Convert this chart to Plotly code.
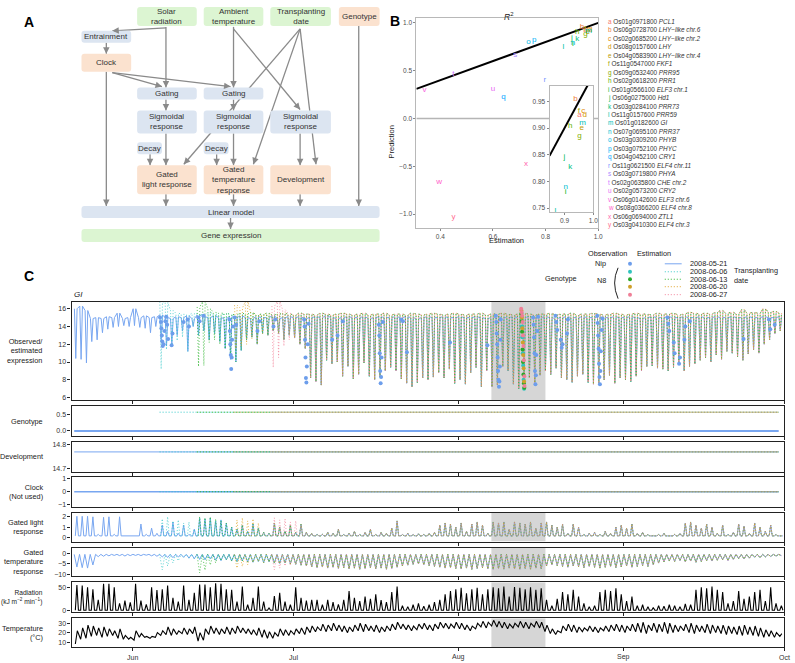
import math
import pandas as pd
import plotly.graph_objects as go

W, H = 795, 663
FONT = "Liberation Sans, Arial, sans-serif"


def fx(px):
    return px / W


def fy(py):
    return 1 - py / H


# ======================= DATA =======================
# ---- Panel A (diagram labels) ----
diagram_labels = ["Solar<br>radiation", "Ambient<br>temperature", "Transplanting<br>date", "Genotype",
                  "Entrainment", "Clock", "Gating", "Gating",
                  "Sigmoidal<br>response", "Sigmoidal<br>response", "Sigmoidal<br>response",
                  "Decay", "Decay", "Gated<br>light response", "Gated<br>temperature<br>response",
                  "Development", "Linear model", "Gene expression"]
diagram_kind = ["input", "input", "input", "state", "proc", "state", "proc", "proc",
                "proc", "proc", "proc", "proc", "proc", "state", "state", "state", "proc", "input"]

# ---- Panel B ----
gene_letters = list("abcdefghijklmnopqrstuvwxy")
gene_ids = ["Os01g0971800", "Os06g0728700", "Os02g0685200", "Os08g0157600", "Os04g0583900",
            "Os11g0547000", "Os09g0532400", "Os02g0618200", "Os01g0566100", "Os06g0275000",
            "Os03g0284100", "Os11g0157600", "Os01g0182600", "Os07g0695100", "Os03g0309200",
            "Os03g0752100", "Os04g0452100", "Os11g0621500", "Os03g0719800", "Os02g0635800",
            "Os02g0573200", "Os06g0142600", "Os08g0366200", "Os06g0694000", "Os03g0410300"]
gene_names = ["PCL1", "LHY\u2212like chr.6", "LHY\u2212like chr.2", "LHY", "LHY\u2212like chr.4",
              "FKF1", "PRR95", "PRR1", "ELF3 chr.1", "Hd1", "PRR73", "PRR59", "GI", "PRR37",
              "PHYB", "PHYC", "CRY1", "ELF4 chr.11", "PHYA", "CHE chr.2", "CRY2", "ELF3 chr.6",
              "ELF4 chr.8", "ZTL1", "ELF4 chr.3"]
r2_estimation = [0.952, 0.938, 0.965, 0.970, 0.960, 0.950, 0.952, 0.920, 0.904, 0.900,
                 0.920, 0.868, 0.963, 0.904, 0.735, 0.757, 0.640, 0.797, 0.685, 0.450,
                 0.600, 0.340, 0.396, 0.726, 0.450]
r2_prediction = [0.924, 0.954, 0.933, 0.925, 0.900, 0.933, 0.886, 0.905, 0.780, 0.846,
                 0.828, 0.745, 0.910, 0.790, 0.795, 0.820, 0.220, 0.400, 0.665, 0.460,
                 0.310, 0.295, -0.670, -0.475, -1.035]

# ---- Panel C ----
first_day = "2008-05-21"
last_day = "2008-09-30"
transplant_dates = ["2008-05-21", "2008-06-06", "2008-06-13", "2008-06-20", "2008-06-27"]
shade_start, shade_end = "2008-08-07 04:00", "2008-08-17 07:00"
month_ticks = ["2008-06-01", "2008-07-01", "2008-08-01", "2008-09-01", "2008-10-01"]
month_labels = ["Jun", "Jul", "Aug", "Sep", "Oct"]

# GI estimated expression (Nip): daily trough and plateau
gi_trough = [10.4, 10.3, 9.9, 12.3, 12.5, 13.3, 13.7, 13.9, 14.0, 14.1, 14.0,
             14.1, 13.9, 13.8, 13.3, 14.0, 12.3, 11.8, 12.0, 13.0, 13.5,
             11.2, 14.0, 13.0, 13.5, 12.5, 13.2, 12.3, 11.5, 10.3, 10.0,
             11.3, 12.5, 12.8, 12.0, 13.2, 13.0, 13.5, 13.2, 12.5, 13.0,
             12.7, 12.0, 11.5, 8.2, 7.8, 7.4, 10.2, 9.8, 10.0, 8.4,
             9.5, 8.1, 8.6, 9.9, 8.4, 8.0, 8.3, 9.0, 9.4, 9.0,
             8.1, 7.6, 7.2, 7.7, 8.2, 8.0, 8.3, 8.8, 8.2, 9.2,
             7.6, 8.0, 7.5, 8.8, 9.4, 7.2, 9.0, 7.2, 7.4, 9.5,
             9.0, 7.5, 7.0, 8.0, 8.2, 7.5, 8.5, 9.0, 8.6, 9.3,
             8.2, 8.0, 7.7, 8.4, 8.6, 7.7, 7.5, 7.6, 8.0, 8.5,
             7.6, 8.2, 8.0, 7.8, 8.4, 9.0, 9.5, 9.6, 9.3, 9.2,
             9.0, 9.4, 9.8, 9.0, 9.5, 9.8, 10.2, 10.5, 10.0, 10.8,
             10.3, 11.2, 11.0, 10.6, 10.2, 10.9, 11.4, 11.0, 12.0, 12.5, 13.2, 13.5]
gi_peak = [16.0, 16.3, 15.8, 14.9, 15.0, 14.9, 15.1, 15.0, 15.5, 14.9, 15.0,
           16.0, 15.0, 15.2, 15.0, 15.1, 15.3, 15.0, 14.9, 15.1, 15.0,
           15.2, 14.9, 15.3, 15.1, 15.0, 15.2, 15.0, 14.9, 15.1, 15.0,
           15.2, 15.0, 14.9, 15.1, 15.0, 15.0, 15.2, 14.9, 15.0, 15.1,
           15.0, 15.1, 14.9, 15.0, 15.1, 15.0, 15.2, 15.0, 14.9, 15.0,
           15.1, 15.0, 15.0, 15.1, 14.9, 15.0, 15.1, 15.0, 15.0, 15.1,
           15.0, 15.1, 15.0, 14.9, 15.0, 15.1, 15.0, 15.0, 15.1, 15.0,
           15.0, 15.1, 15.0, 15.0, 15.1, 15.0, 14.9, 15.0, 15.1, 15.0,
           15.0, 15.1, 15.0, 15.0, 15.1, 15.0, 15.0, 15.1, 15.0, 14.9,
           15.0, 15.1, 15.0, 15.0, 15.1, 15.0, 15.0, 15.1, 15.0, 15.0,
           15.1, 15.0, 15.0, 15.1, 15.0, 14.9, 15.0, 15.1, 15.0, 15.0,
           15.1, 15.0, 15.0, 15.1, 15.0, 15.0, 15.1, 15.0, 15.0, 15.1,
           15.0, 15.0, 15.1, 15.0, 15.0, 15.1, 15.0, 15.0, 15.1, 15.0, 15.0, 15.1]
# N8 plateau from 2008-06-06 on (index 16..132)
gi_peak_n8 = [15.4, 15.3, 15.5, 15.3, 15.4,
              15.3, 15.5, 15.4, 15.3, 15.6, 15.4, 15.3, 15.5, 15.4, 15.3,
              15.5, 15.4, 15.6, 15.3, 15.4, 15.5, 15.3, 15.4, 15.5, 15.4,
              15.3, 15.5, 15.4, 15.4, 15.3, 15.5, 15.4, 15.3, 15.4, 15.5,
              15.4, 15.3, 15.4, 15.5, 15.3, 15.4, 15.4, 15.5, 15.3, 15.4,
              15.4, 15.3, 15.5, 15.4, 15.3, 15.4, 15.5, 15.4, 15.3, 15.4,
              15.5, 15.4, 15.3, 15.4, 15.4, 15.5, 15.3, 15.4, 15.4, 15.5,
              15.4, 15.3, 15.4, 15.5, 15.4, 15.3, 15.4, 15.4, 15.5, 15.3,
              15.4, 15.4, 15.5, 15.3, 15.4, 15.4, 15.5, 15.4, 15.3, 15.4,
              15.5, 15.4, 15.3, 15.4, 15.5, 15.4, 15.4, 15.3, 15.5, 15.4,
              15.4, 15.5, 15.3, 15.4, 15.6, 15.5, 15.4, 15.5, 15.4, 15.6,
              15.8, 15.5, 15.6, 15.4, 15.9, 15.5, 15.6, 15.5, 16.0, 15.6, 15.7, 15.5]
# transients of N8 estimates just after each transplanting date
n8_gi_trough_start = [[9.2, 11.4, 11.9, 12.4, 12.8], [9.5, 9.6, 12.2, 12.5, 12.0],
                      [11.5, 11.8, 12.0, 12.6], [9.4, 10.5, 11.8, 12.5]]
n8_gi_peak_start = [[16.8, 16.7, 15.8, 15.5, 15.4], [16.2, 16.8, 16.0, 15.6, 15.5],
                    [16.4, 16.1, 16.8, 15.6], [16.3, 16.8, 15.9, 15.5]]

# Observations of GI (Nip)
obs_nip_time = [
    "2008-06-06 02:00", "2008-06-06 06:00", "2008-06-06 08:00", "2008-06-06 10:00", "2008-06-06 12:00",
    "2008-06-06 14:00", "2008-06-06 18:00", "2008-06-06 22:00", "2008-06-07 02:00", "2008-06-07 06:00",
    "2008-06-07 10:00", "2008-06-07 14:00", "2008-06-08 06:00", "2008-06-08 10:00",
    "2008-06-10 12:00", "2008-06-11 06:00", "2008-06-11 12:00",
    "2008-06-13 06:00", "2008-06-13 12:00", "2008-06-14 06:00",
    "2008-06-19 02:00", "2008-06-19 04:00", "2008-06-19 06:00", "2008-06-19 08:00", "2008-06-19 10:00",
    "2008-06-19 12:00", "2008-06-19 14:00", "2008-06-19 18:00", "2008-06-20 02:00", "2008-06-20 08:00",
    "2008-06-24 08:00", "2008-06-24 16:00", "2008-06-27 08:00", "2008-06-27 16:00",
    "2008-07-03 02:00", "2008-07-03 04:00", "2008-07-03 06:00", "2008-07-03 08:00", "2008-07-03 10:00",
    "2008-07-03 12:00", "2008-07-03 14:00", "2008-07-03 18:00", "2008-07-03 22:00",
    "2008-07-08 08:00", "2008-07-09 08:00", "2008-07-10 08:00",
    "2008-07-17 02:00", "2008-07-17 04:00", "2008-07-17 06:00", "2008-07-17 08:00", "2008-07-17 10:00",
    "2008-07-17 12:00", "2008-07-17 14:00", "2008-07-17 20:00",
    "2008-07-21 06:00", "2008-07-21 14:00", "2008-07-22 08:00", "2008-07-30 10:00", "2008-08-06 10:00",
    "2008-08-08 00:00", "2008-08-08 02:00", "2008-08-08 04:00", "2008-08-08 06:00", "2008-08-08 08:00",
    "2008-08-08 10:00", "2008-08-08 12:00", "2008-08-08 14:00", "2008-08-08 16:00", "2008-08-08 18:00",
    "2008-08-08 20:00", "2008-08-08 22:00",
    "2008-08-15 00:00", "2008-08-15 02:00", "2008-08-15 04:00", "2008-08-15 06:00", "2008-08-15 08:00",
    "2008-08-15 10:00", "2008-08-15 12:00", "2008-08-15 14:00", "2008-08-15 18:00", "2008-08-15 22:00",
    "2008-08-19 04:00", "2008-08-19 08:00", "2008-08-19 12:00", "2008-08-20 04:00", "2008-08-20 08:00",
    "2008-08-20 12:00", "2008-08-21 08:00", "2008-08-21 12:00",
    "2008-08-27 00:00", "2008-08-27 02:00", "2008-08-27 04:00", "2008-08-27 06:00", "2008-08-27 08:00",
    "2008-08-27 10:00", "2008-08-27 12:00", "2008-08-27 14:00", "2008-08-27 16:00", "2008-08-27 20:00",
    "2008-08-28 00:00",
    "2008-09-09 04:00", "2008-09-09 08:00", "2008-09-09 12:00", "2008-09-10 08:00", "2008-09-10 12:00",
    "2008-09-11 08:00", "2008-09-11 12:00", "2008-09-12 08:00", "2008-09-12 12:00", "2008-09-13 08:00",
    "2008-09-23 10:00", "2008-09-28 04:00", "2008-09-28 10:00", "2008-09-29 06:00"]
obs_nip_value = [
    15.0, 14.5, 13.8, 13.0, 12.3, 11.8, 12.0, 13.5, 14.6, 15.1, 14.2, 12.6, 11.9, 13.2,
    14.5, 14.8, 14.0,
    15.0, 14.6, 15.2,
    14.8, 13.5, 12.0, 10.8, 9.2, 10.5, 12.5, 14.0, 15.0, 14.2,
    13.5, 14.6, 14.0, 14.8,
    14.8, 14.0, 12.5, 10.5, 8.2, 7.7, 9.5, 12.0, 14.3,
    12.5, 13.0, 14.6,
    14.2, 13.0, 11.0, 9.0, 7.6, 8.3, 10.5, 14.5,
    14.8, 14.6, 11.1, 12.2, 11.9,
    15.2, 14.5, 13.2, 12.0, 10.5, 9.0, 8.0, 7.2, 7.8, 9.5, 12.5, 14.8,
    15.0, 14.2, 12.8, 11.0, 9.0, 7.5, 8.5, 10.8, 13.5, 15.1,
    15.2, 14.5, 13.6, 12.5, 11.6, 12.0, 13.2, 14.8,
    15.2, 14.4, 13.0, 11.5, 9.8, 8.3, 7.5, 9.0, 11.2, 13.6, 14.9,
    15.0, 14.3, 13.5, 12.2, 11.0, 9.8, 10.5, 12.5, 14.0, 14.6,
    12.6, 14.8, 13.7, 14.2]
# Observations of GI (N8, one sampling day, per transplanting date)
obs_n8_time = [["2008-08-12 19:00", "2008-08-12 21:00", "2008-08-12 23:00", "2008-08-13 01:00",
                "2008-08-13 03:00", "2008-08-13 05:00", "2008-08-13 07:00"],
               ["2008-08-12 18:00", "2008-08-12 20:00", "2008-08-12 22:00", "2008-08-13 00:00",
                "2008-08-13 02:00", "2008-08-13 04:00", "2008-08-13 06:00", "2008-08-13 08:00"],
               ["2008-08-12 19:00", "2008-08-12 21:00", "2008-08-12 23:00", "2008-08-13 01:00",
                "2008-08-13 03:00", "2008-08-13 05:00", "2008-08-13 07:00"],
               ["2008-08-12 18:00", "2008-08-12 20:00", "2008-08-12 22:00", "2008-08-13 00:00",
                "2008-08-13 02:00", "2008-08-13 04:00", "2008-08-13 06:00", "2008-08-13 08:00",
                "2008-08-13 09:00"]]
obs_n8_value = [[15.1, 14.0, 12.8, 11.0, 9.6, 8.0, 7.0],
                [15.4, 14.6, 13.4, 11.4, 10.0, 8.6, 7.6, 7.1],
                [15.8, 15.0, 13.8, 12.2, 10.8, 9.3, 7.8],
                [16.0, 15.6, 15.2, 14.5, 13.0, 11.8, 10.2, 8.4, 7.3]]

# Genotype / Development / Clock terms
genotype_effect = [0.0, 0.56, 0.56, 0.56, 0.56]
development_effect = [14.771, 14.771, 14.771, 14.771, 14.771]
clock_effect = [0.0, 0.0, 0.0, 0.0, 0.0]

# Gated light response (Nip): daily peak, night level
light_peak = [2.05, 2.05, 2.05, 2.0, 0.3, 1.95, 2.0, 0.3, 2.0, 0.2, 0.2,
              0.15, 1.3, 0.3, 0.9, 0.4, 1.2, 0.6, 1.5, 0.4, 1.2,
              0.3, 0.8, 1.9, 1.8, 1.9, 1.6, 1.7, 1.4, 1.0, 0.8,
              1.2, 0.6, 1.3, 0.9, 0.5, 0.4, 1.4, 1.0, 0.6, 1.2,
              0.5, 1.3, 0.5, 0.4, 0.3, 0.3, 0.5, 0.4, 0.8, 0.3,
              0.4, 0.6, 0.3, 0.5, 0.8, 0.3, 0.5, 0.4, 0.9, 1.6,
              0.3, 0.4, 0.3, 0.35, 0.3, 0.4, 0.5, 1.2, 1.4, 1.3,
              1.0, 1.4, 0.6, 1.3, 1.5, 1.2, 0.4, 1.5, 1.4, 1.5,
              0.8, 1.5, 1.4, 1.3, 1.5, 0.9, 1.4, 1.5, 1.2, 1.0,
              1.3, 0.4, 1.3, 1.0, 0.3, 0.4, 0.5, 0.3, 0.6, 0.4,
              1.0, 1.2, 0.9, 1.3, 0.4, 0.5, 0.3, 0.2, 0.3, 0.4,
              0.2, 0.3, 0.4, 1.4, 1.5, 1.2, 0.9, 1.3, 1.0, 0.4,
              1.2, 0.3, 0.5, 1.3, 1.1, 0.4, 1.4, 1.0, 0.6, 1.2, 0.3, 0.2]
light_night = 0.15
n8_light_start = [[1.8, 2.0, 1.6, 1.7, 1.4, 1.5], [2.0, 1.9, 2.0, 1.8, 1.6],
                  [1.7, 1.9, 1.6, 1.8, 1.4], [1.9, 1.7, 1.8, 1.5, 1.6, 1.2]]

# Gated temperature response (Nip): daily minimum, daily top level
gtemp_min = [-6.5, -6.8, -7.0, -5.5, -1.5, -1.3, -1.1, -0.9, -1.0, -1.2, -1.0,
             -0.9, -1.0, -0.8, -1.1, -1.3, -1.6, -1.9, -2.0, -1.6, -1.8,
             -2.2, -2.5, -2.8, -3.0, -2.6, -3.2, -3.4, -3.0, -3.6, -3.8,
             -3.5, -4.0, -4.2, -3.8, -4.4, -4.0, -4.6, -4.8, -4.5, -5.0,
             -5.2, -5.6, -6.0, -6.4, -6.8, -6.5, -7.0, -6.6, -7.2, -6.8,
             -7.4, -7.0, -7.6, -7.2, -6.8, -7.4, -7.0, -7.6, -7.2, -6.6,
             -6.0, -5.6, -5.2, -5.0, -5.4, -5.8, -6.2, -6.6, -7.0, -6.8,
             -7.2, -7.4, -7.0, -7.6, -7.2, -6.8, -7.4, -7.6, -7.2, -7.5,
             -7.0, -7.4, -7.6, -7.2, -7.5, -7.0, -7.3, -6.0, -5.4, -5.8,
             -6.2, -6.6, -6.0, -6.4, -6.8, -6.2, -6.6, -7.0, -6.6, -6.2,
             -6.8, -6.4, -6.0, -6.6, -6.2, -5.8, -6.2, -5.4, -4.6, -4.0,
             -3.6, -3.8, -3.4, -4.0, -3.6, -4.2, -3.8, -3.4, -3.6, -3.2,
             -3.0, -3.4, -2.8, -2.4, -2.6, -2.2, -1.8, -2.0, -1.6, -1.4, -1.2, -1.0]
gtemp_top = -0.4
n8_gtemp_start = [[-7.8, -6.0, -4.5, -3.5], [-9.3, -8.0, -5.5, -4.5],
                  [-7.0, -6.2, -5.5], [-7.8, -7.0, -6.0, -5.5]]

# Solar radiation (kJ m-2 min-1): daily maximum, night level
radiation_peak = [55, 54, 50, 46, 23, 58, 58, 50, 15, 21, 17,
                  58, 21, 13, 50, 44, 46, 54, 27, 19, 54,
                  23, 38, 56, 56, 50, 59, 58, 46, 45, 19,
                  52, 12, 27, 52, 19, 5, 31, 38, 19, 12,
                  50, 27, 21, 23, 23, 12, 23, 18, 13, 23, 42, 27,
                  20, 30, 25, 35, 22, 18, 40, 52,
                  10, 8, 12, 15, 9, 12, 18,
                  23, 35, 42, 46, 49, 37, 46, 49, 35, 46,
                  50, 48, 52, 30, 51, 49, 46, 50, 45, 48,
                  23, 10, 25, 40, 35, 45, 30, 15, 8, 10,
                  40, 45, 42, 48, 35, 20,
                  30, 10, 12, 8, 6, 10, 9, 12, 10, 8,
                  14, 12, 45, 50, 48, 52, 45, 40, 15,
                  20, 42, 25, 30, 40, 45, 20, 50, 15, 10]
radiation_night = 0.0

# Air temperature (deg C): daily maximum and minimum
temp_max = [22, 25, 28, 27, 25, 26, 24, 22, 24, 17, 15,
            22, 19, 16, 16, 20, 22, 26, 24, 22, 25,
            24, 26, 20, 24, 27, 25, 24, 26, 25, 27,
            25, 24, 23, 25, 23, 21, 20, 24, 23, 22,
            24, 25, 26, 27, 26, 29, 28, 30, 28, 27,
            26, 28, 30, 29, 27, 28, 26, 27, 29, 31,
            29, 28, 27, 29, 30, 28, 29, 31, 30, 29,
            31, 30, 28, 27, 30, 32, 31, 33, 32, 31,
            29, 30, 32, 31, 30, 32, 31, 28, 24, 22,
            27, 29, 28, 26, 25, 27, 26, 25, 27, 28,
            29, 28, 27, 29, 30, 31, 28, 30, 29, 31,
            30, 28, 27, 29, 30, 28, 27, 29, 28, 27,
            28, 27, 26, 27, 28, 26, 27, 25, 23, 22, 20, 19]
temp_min = [8, 13, 14, 16, 17, 15, 16, 17, 14, 13, 13,
            12, 15, 15, 14, 15, 17, 18, 17, 18, 19,
            18, 19, 11, 12, 18, 19, 18, 19, 18, 19,
            20, 19, 18, 17, 15, 14, 14, 16, 17, 17,
            18, 19, 18, 20, 21, 22, 21, 22, 22, 21,
            20, 21, 22, 21, 22, 21, 20, 21, 22, 23,
            24, 23, 22, 23, 24, 23, 22, 24, 25, 24,
            25, 24, 23, 22, 24, 26, 25, 27, 26, 25,
            24, 25, 26, 25, 24, 26, 25, 21, 19, 18,
            20, 22, 21, 20, 21, 22, 21, 20, 22, 21,
            22, 21, 20, 22, 21, 20, 19, 22, 20, 21,
            19, 20, 21, 22, 20, 19, 21, 20, 19, 20,
            19, 18, 19, 18, 17, 18, 17, 16, 15, 16, 15, 16]

# ======================= STYLE =======================
series_colors = ["#78a6f0", "#35c8c8", "#2fb52f", "#e0a42a", "#f3849b"]
dot_colors = ["#6d9eeb", "#30c3bd", "#2aa82a", "#cfa02a", "#ef7f97"]
DOT = "1px,2px"

days = pd.date_range(first_day, last_day, freq="D")
N = len(days)
for arr in (gi_trough, gi_peak, light_peak, gtemp_min, radiation_peak, temp_max, temp_min):
    assert len(arr) == N, len(arr)
assert len(gi_peak_n8) == N - 16

fig = go.Figure()
shapes = []
annotations = []


def hcl_hex(h, c=100.0, l=65.0):
    hr = math.radians(h)
    u, v = c * math.cos(hr), c * math.sin(hr)
    Xn, Yn, Zn = 95.047, 100.0, 108.883
    un = 4 * Xn / (Xn + 15 * Yn + 3 * Zn)
    vn = 9 * Yn / (Xn + 15 * Yn + 3 * Zn)
    Y = Yn * ((l + 16) / 116) ** 3
    up = u / (13 * l) + un
    vp = v / (13 * l) + vn
    X = 9 * Y * up / (4 * vp)
    Z = (12 - 3 * up - 20 * vp) * Y / (4 * vp)
    X, Y, Z = X / 100, Y / 100, Z / 100
    r = 3.2404542 * X - 1.5371385 * Y - 0.4985314 * Z
    g = -0.9692660 * X + 1.8760108 * Y + 0.0415560 * Z
    b = 0.0556434 * X - 0.2040259 * Y + 1.0572252 * Z

    def gam(x):
        x = max(0.0, min(1.0, x))
        return 12.92 * x if x <= 0.0031308 else 1.055 * x ** (1 / 2.4) - 0.055

    return "#%02x%02x%02x" % tuple(int(round(gam(x) * 255)) for x in (r, g, b))


gene_colors = [hcl_hex(15 + 360 * i / 25) for i in range(25)]

# ======================= PANEL A =======================
box_geom = [(138, 5, 198, 24), (205, 5, 265, 24), (272, 5, 333, 24), (341, 5, 382, 24),
            (82, 29, 132, 41), (82, 52, 132, 70), (138, 86, 198, 98), (205, 86, 265, 98),
            (138, 109, 198, 132), (205, 109, 265, 132), (272, 109, 333, 132),
            (138, 141, 163, 153), (205, 141, 230, 153), (138, 164, 198, 193),
            (205, 164, 265, 193), (272, 164, 333, 193), (82, 205, 382, 217), (82, 228, 382, 241)]
kind_fill = {"input": "#dcf5d2", "state": "#fbe2cf", "proc": "#dce5f1"}
edges = [((167, 26), (113, 29)), ((167, 25), (167, 86)), ((107, 41), (107, 52)),
         ((107, 70), (107, 205)), ((113, 71), (163, 85)), ((113, 71), (232, 85)),
         ((235, 25), (235, 86)), ((235, 27), (302, 108)), ((302, 27), (185, 163)),
         ((302, 27), (255, 163)), ((302, 27), (318, 163)), ((167, 98), (167, 109)),
         ((235, 98), (235, 109)), ((167, 132), (167, 164)), ((235, 132), (235, 164)),
         ((302, 132), (302, 164)), ((151, 153), (151, 164)), ((218, 153), (218, 164)),
         ((167, 193), (167, 205)), ((235, 193), (235, 205)), ((302, 193), (302, 205)),
         ((361, 24), (361, 205)), ((232, 217), (232, 228))]
arrow_col = "#8a8a8a"
for (x0, y0), (x1, y1) in edges:
    shapes.append(dict(type="line", xref="paper", yref="paper", x0=fx(x0), y0=fy(y0),
                       x1=fx(x1), y1=fy(y1), line=dict(color=arrow_col, width=1.3), layer="above"))


def rrect(x0, y0, x1, y1, r=3.0):
    X0, X1, Yt, Yb = fx(x0), fx(x1), fy(y0), fy(y1)
    rx, ry = r / W, r / H
    return (f"M{X0 + rx},{Yt} L{X1 - rx},{Yt} Q{X1},{Yt} {X1},{Yt - ry} L{X1},{Yb + ry} "
            f"Q{X1},{Yb} {X1 - rx},{Yb} L{X0 + rx},{Yb} Q{X0},{Yb} {X0},{Yb + ry} "
            f"L{X0},{Yt - ry} Q{X0},{Yt} {X0 + rx},{Yt} Z")


for lab, kind, (x0, y0, x1, y1) in zip(diagram_labels, diagram_kind, box_geom):
    shapes.append(dict(type="path", xref="paper", yref="paper", path=rrect(x0, y0, x1, y1),
                       fillcolor=kind_fill[kind], line=dict(width=0), layer="above"))
    annotations.append(dict(x=fx((x0 + x1) / 2), y=fy((y0 + y1) / 2), xref="paper", yref="paper",
                            text=lab, showarrow=False, font=dict(size=8, color="#333", family=FONT),
                            xanchor="center", yanchor="middle", align="center"))
for (x0, y0), (x1, y1) in edges:
    dx, dy = x1 - x0, y1 - y0
    L = math.hypot(dx, dy)
    annotations.append(dict(x=fx(x1), y=fy(y1), xref="paper", yref="paper", text="",
                            showarrow=True, ax=-dx / L * 6, ay=-dy / L * 6, axref="pixel", ayref="pixel",
                            arrowhead=2, arrowsize=1.0, arrowwidth=1.3, arrowcolor=arrow_col, standoff=0))

# panel letters
for lab, px, py in [("A", 22, 10), ("B", 397, 9), ("C", 22, 275)]:
    annotations.append(dict(x=fx(px), y=fy(py), xref="paper", yref="paper", text=f"<b>{lab}</b>",
                            showarrow=False, font=dict(size=14, color="black", family=FONT)))

# ======================= PANEL B =======================
bx_range = [0.309, 1.0]
by_range = [-1.146, 1.052]
ix_range = [0.848, 1.0]
iy_range = [0.7425, 0.98]

fig.add_trace(go.Scatter(x=bx_range, y=[0, 0], mode="lines", line=dict(color="#b5b5b5", width=1.5),
                         xaxis="x", yaxis="y", hoverinfo="skip"))
fig.add_trace(go.Scatter(x=bx_range, y=bx_range, mode="lines", line=dict(color="black", width=2),
                         xaxis="x", yaxis="y", hoverinfo="skip"))
fig.add_trace(go.Scatter(x=r2_estimation, y=r2_prediction, mode="text", text=gene_letters,
                         textfont=dict(color=gene_colors, size=8, family=FONT),
                         xaxis="x", yaxis="y"))
# inset: only the genes that fall inside the zoomed window
inset_idx = [i for i in range(len(gene_letters))
             if ix_range[0] <= r2_estimation[i] <= ix_range[1] and iy_range[0] <= r2_prediction[i] <= iy_range[1]]
fig.add_trace(go.Scatter(x=ix_range, y=ix_range, mode="lines", line=dict(color="black", width=2),
                         xaxis="x2", yaxis="y2", hoverinfo="skip"))
fig.add_trace(go.Scatter(x=[r2_estimation[i] for i in inset_idx], y=[r2_prediction[i] for i in inset_idx],
                         mode="text", text=[gene_letters[i] for i in inset_idx],
                         textfont=dict(color=[gene_colors[i] for i in inset_idx], size=8, family=FONT),
                         xaxis="x2", yaxis="y2", cliponaxis=True))

axB = dict(showgrid=False, zeroline=False, showline=True, mirror=True, linecolor="#b8b8b8",
           linewidth=1, ticks="outside", ticklen=2, tickcolor="#888",
           tickfont=dict(size=6.5, color="#4d4d4d", family=FONT))
layout_axes = {}
layout_axes["xaxis"] = dict(axB, domain=[fx(419), fx(602)], range=bx_range, anchor="y",
                            tickvals=[0.4, 0.6, 0.8, 1.0], ticktext=["0.4", "0.6", "0.8", "1.0"])
layout_axes["yaxis"] = dict(axB, domain=[fy(227), fy(16)], range=by_range, anchor="x",
                            tickvals=[-1, -0.5, 0, 0.5, 1],
                            ticktext=["\u22121.0", "\u22120.5", "0.0", "0.5", "1.0"])
layout_axes["xaxis2"] = dict(axB, domain=[fx(553), fx(597)], range=ix_range, anchor="y2",
                             tickvals=[0.9, 1.0], ticktext=["0.9", "1.0"])
layout_axes["yaxis2"] = dict(axB, domain=[fy(211), fy(84)], range=iy_range, anchor="x2",
                             tickvals=[0.75, 0.8, 0.85, 0.9, 0.95],
                             ticktext=["0.75", "0.80", "0.85", "0.90", "0.95"])

annotations.append(dict(x=fx(512), y=fy(7), xref="paper", yref="paper", text="<i>R</i><sup>2</sup>",
                        showarrow=False, font=dict(size=8.5, color="#222", family=FONT)))
annotations.append(dict(x=fx(510), y=fy(240), xref="paper", yref="paper", text="Estimation",
                        showarrow=False, font=dict(size=7.5, color="#222", family=FONT)))
annotations.append(dict(x=fx(394), y=fy(122), xref="paper", yref="paper", text="Prediction",
                        showarrow=False, textangle=-90, font=dict(size=7.5, color="#222", family=FONT)))
for i, (lt, gid, gn, col) in enumerate(zip(gene_letters, gene_ids, gene_names, gene_colors)):
    annotations.append(dict(x=fx(610), y=fy(20 + 8.5 * i), xref="paper", yref="paper",
                            xanchor="left", yanchor="middle", showarrow=False,
                            text=f"<span style='color:{col}'>{lt}</span> {gid} <i>{gn}</i>",
                            font=dict(size=6.4, color="#333", family=FONT)))

# ======================= PANEL C =======================
panels = [
    ("Observed/<br>estimated<br>expression", 301, 400, [5.7, 16.8], [6, 8, 10, 12, 14, 16],
     ["6", "8", "10", "12", "14", "16"], 7.3),
    ("Genotype", 406, 436, [-0.15, 0.74], [0, 0.5], ["0.0", "0.5"], 7.3),
    ("Development", 442, 472, [14.6875, 14.8125], [14.7, 14.8], ["14.7", "14.8"], 7.3),
    ("Clock<br>(Not used)", 477, 507, [-1.15, 1.15], [-1, 0, 1], ["\u22121", "0", "1"], 7.3),
    ("Gated light<br>response", 513, 542, [-0.4, 2.4], [0, 1, 2], ["0", "1", "2"], 7.3),
    ("Gated<br>temperature<br>response", 548, 577, [-11, 2.9], [-10, -5, 0],
     ["\u221210", "\u22125", "0"], 7.3),
    ("Radiation<br>(kJ m<sup>\u22122</sup> min<sup>\u22121</sup>)", 583, 613, [-4.3, 61], [0, 50],
     ["0", "50"], 6.6),
    ("Temperature<br>(\u00b0C)", 619, 648, [4.7, 35.3], [10, 20, 30], ["10", "20", "30"], 7.3),
]
x_range = ["2008-05-20 12:00", "2008-10-01 00:00"]
shaded_panels = [0, 4, 5, 6, 7]

for k, (title, top, bot, yr, tv, tt, fs) in enumerate(panels):
    n = k + 3
    layout_axes[f"xaxis{n}"] = dict(domain=[fx(72), fx(789)], range=x_range, type="date",
                                    anchor=f"y{n}", tickvals=month_ticks, ticktext=month_labels,
                                    ticks="outside", ticklen=3, tickcolor="#222",
                                    showticklabels=False, showline=True, mirror=True,
                                    linecolor="#222", linewidth=1.1, showgrid=False, zeroline=False)
    layout_axes[f"yaxis{n}"] = dict(domain=[fy(bot), fy(top)], range=yr, anchor=f"x{n}",
                                    tickvals=tv, ticktext=tt, ticks="outside", ticklen=3,
                                    tickcolor="#222", showline=True, mirror=True, linecolor="#222",
                                    linewidth=1.1, showgrid=False, zeroline=False,
                                    tickfont=dict(size=7, color="#333", family=FONT))
    annotations.append(dict(x=fx(45), y=fy((top + bot) / 2), xref="paper", yref="paper",
                            xanchor="right", yanchor="middle", align="right", text=title,
                            showarrow=False, font=dict(size=fs, color="#222", family=FONT)))
    if k in shaded_panels:
        shapes.append(dict(type="rect", xref=f"x{n}", yref=f"y{n}", x0=shade_start, x1=shade_end,
                           y0=yr[0], y1=yr[1], fillcolor="#d6d6d6", line=dict(width=0), layer="below"))

# month labels under the last panel
last_x = f"x{len(panels) + 2}"
for mt, ml in zip(month_ticks, month_labels):
    annotations.append(dict(x=mt, y=fy(658), xref=last_x, yref="paper", text=ml, showarrow=False,
                            xanchor="center", yanchor="middle",
                            font=dict(size=7, color="#333", family=FONT)))

annotations.append(dict(x=fx(72), y=fy(294), xref="paper", yref="paper", xanchor="left",
                        text="<i>GI</i>", showarrow=False, font=dict(size=8, color="#222", family=FONT)))


def zigzag(day_list, pieces):
    xs, ys = [], []
    for i, d in enumerate(day_list):
        for hour, vals in pieces:
            xs.append(d + pd.Timedelta(hours=hour))
            ys.append(vals[i])
    return xs, ys


def add_line(xs, ys, n, color, dash="solid", width=1.0):
    fig.add_trace(go.Scatter(x=xs, y=ys, mode="lines", xaxis=f"x{n}", yaxis=f"y{n}",
                             line=dict(color=color, width=width, dash=dash), hoverinfo="skip"))


starts = [list(days).index(pd.Timestamp(d)) for d in transplant_dates]

# --- Nip estimates ---
xs, ys = zigzag(days, [(1, gi_peak), (7, gi_trough), (13, gi_peak)])
add_line(xs, ys, 3, series_colors[0])
add_line([days[0], days[-1]], [genotype_effect[0]] * 2, 4, series_colors[0], width=2)
add_line([days[0], days[-1]], [development_effect[0]] * 2, 5, series_colors[0])
add_line([days[0], days[-1]], [clock_effect[0]] * 2, 6, series_colors[0], width=1.5)
xs, ys = zigzag(days, [(5, [light_night] * N), (12, light_peak), (19, [light_night] * N)])
add_line(xs, ys, 7, series_colors[0])
xs, ys = zigzag(days, [(0, [gtemp_top] * N), (12, gtemp_min)])
add_line(xs, ys, 8, series_colors[0])

# --- N8 estimates (dotted) ---
for j in range(4):
    s = starts[j + 1]
    col = series_colors[j + 1]
    dl = days[s:]
    tr = n8_gi_trough_start[j]
    pk = n8_gi_peak_start[j]
    m = len(tr)
    troughs = tr + gi_trough[s + m:]
    peaks = pk + gi_peak_n8[s + m - 16:]
    xs, ys = zigzag(dl, [(1, peaks), (7, troughs), (13, peaks)])
    add_line(xs, ys, 3, col, dash=DOT, width=0.8)
    add_line([dl[0], dl[-1]], [genotype_effect[j + 1]] * 2, 4, col, dash=DOT)
    add_line([dl[0], dl[-1]], [development_effect[j + 1]] * 2, 5, col, dash=DOT)
    add_line([dl[0], dl[-1]], [clock_effect[j + 1]] * 2, 6, col, dash=DOT)
    lp = n8_light_start[j] + light_peak[s + len(n8_light_start[j]):]
    xs, ys = zigzag(dl, [(5, [light_night] * len(dl)), (12, lp), (19, [light_night] * len(dl))])
    add_line(xs, ys, 7, col, dash=DOT, width=0.8)
    gm = n8_gtemp_start[j] + gtemp_min[s + len(n8_gtemp_start[j]):]
    xs, ys = zigzag(dl, [(0, [gtemp_top] * len(dl)), (12, gm)])
    add_line(xs, ys, 8, col, dash=DOT, width=0.8)

# --- observations ---
fig.add_trace(go.Scatter(x=pd.to_datetime(obs_nip_time), y=obs_nip_value, mode="markers",
                         marker=dict(color=dot_colors[0], size=4), xaxis="x3", yaxis="y3"))
for j in range(4):
    fig.add_trace(go.Scatter(x=pd.to_datetime(obs_n8_time[j]), y=obs_n8_value[j], mode="markers",
                             marker=dict(color=dot_colors[j + 1], size=4), xaxis="x3", yaxis="y3"))

# --- weather ---
xs, ys = zigzag(days, [(5, [radiation_night] * N), (12, radiation_peak), (19, [radiation_night] * N)])
add_line(xs, ys, 9, "black", width=1.1)
xs, ys = zigzag(days, [(5, temp_min), (14, temp_max)])
add_line(xs, ys, 10, "black", width=1.1)

# --- panel C legend ---
legend_rows = [263, 271, 278.5, 286, 294]
lf = dict(size=7.3, color="#222", family=FONT)
annotations += [
    dict(x=fx(633), y=fy(253), text="Observation", showarrow=False, xref="paper", yref="paper", font=lf),
    dict(x=fx(677), y=fy(253), text="Estimation", showarrow=False, xref="paper", yref="paper", font=lf),
    dict(x=fx(612), y=fy(263), text="Nip", showarrow=False, xref="paper", yref="paper", font=lf),
    dict(x=fx(612), y=fy(280), text="N8", showarrow=False, xref="paper", yref="paper", font=lf),
    dict(x=fx(583), y=fy(278), text="Genotype", showarrow=False, xref="paper", yref="paper", font=lf),
    dict(x=fx(737), y=fy(270), text="Transplanting", showarrow=False, xref="paper", yref="paper",
         xanchor="left", font=lf),
    dict(x=fx(737), y=fy(280), text="date", showarrow=False, xref="paper", yref="paper",
         xanchor="left", font=lf),
]
shapes.append(dict(type="path", xref="paper", yref="paper",
                   path=f"M{fx(622)},{fy(267)} Q{fx(615)},{fy(282)} {fx(622)},{fy(298)}",
                   line=dict(color="#222", width=1)))
for j, (ry, d) in enumerate(zip(legend_rows, transplant_dates)):
    shapes.append(dict(type="circle", xref="paper", yref="paper", x0=fx(632), x1=fx(636),
                       y0=fy(ry + 2), y1=fy(ry - 2), fillcolor=dot_colors[j], line=dict(width=0)))
    shapes.append(dict(type="line", xref="paper", yref="paper", x0=fx(669), x1=fx(686),
                       y0=fy(ry), y1=fy(ry),
                       line=dict(color=series_colors[j], width=1, dash="solid" if j == 0 else DOT)))
    annotations.append(dict(x=fx(692), y=fy(ry), text=d, showarrow=False, xref="paper", yref="paper",
                            xanchor="left", yanchor="middle", font=lf))

fig.update_layout(width=W, height=H, margin=dict(l=0, r=0, t=0, b=0), paper_bgcolor="white",
                  plot_bgcolor="white", showlegend=False, shapes=shapes, annotations=annotations,
                  font=dict(family=FONT), **layout_axes)
fig.write_html("out.html", config={"displayModeBar": False},
               post_script="document.body.style.margin='0px';document.body.style.overflow='hidden';")
